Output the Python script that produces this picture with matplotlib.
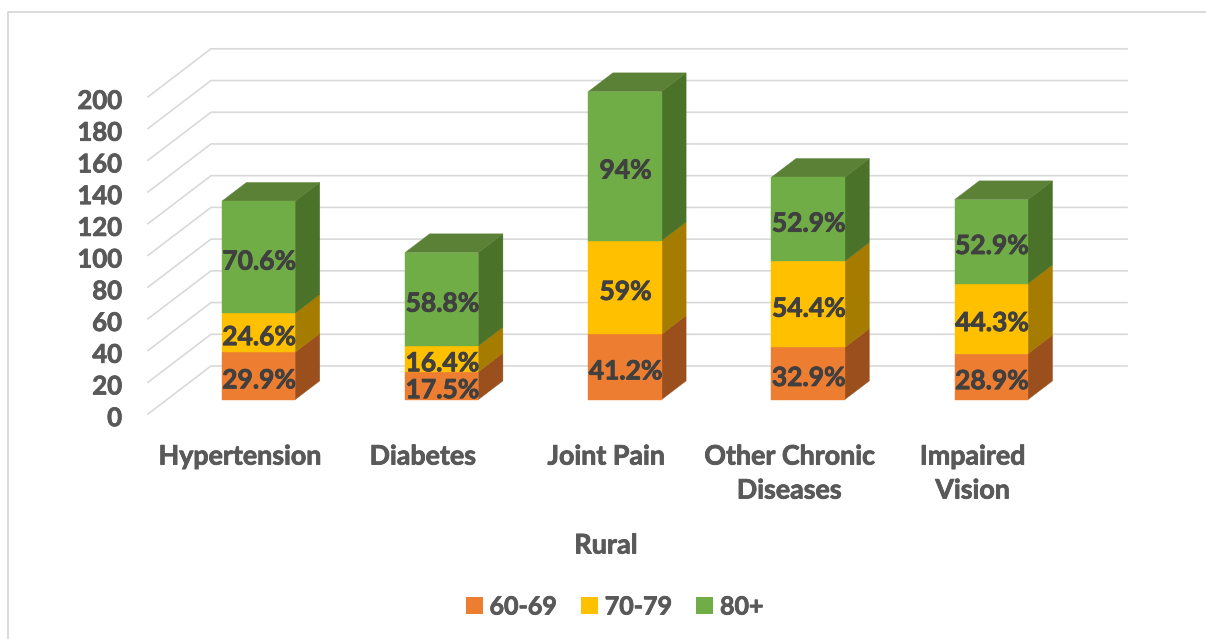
#!/usr/bin/env python3
"""Stacked 3D-style column chart of chronic conditions by age group (rural)."""
import matplotlib
matplotlib.use('Agg')
import matplotlib.pyplot as plt
import matplotlib.patheffects as pe
from matplotlib.patches import Patch, Polygon

categories = ['Hypertension', 'Diabetes', 'Joint Pain', 'Other Chronic\nDiseases', 'Impaired\nVision']
age_groups = ['60-69', '70-79', '80+']
age_60_69 = [29.9, 17.5, 41.2, 32.9, 28.9]
age_70_79 = [24.6, 16.4, 59, 54.4, 44.3]
age_80_up = [70.6, 58.8, 94, 52.9, 52.9]
value_labels = [
    ['29.9%', '17.5%', '41.2%', '32.9%', '28.9%'],
    ['24.6%', '16.4%', '59%', '54.4%', '44.3%'],
    ['70.6%', '58.8%', '94%', '52.9%', '52.9%'],
]
y_ticks = [0, 20, 40, 60, 80, 100, 120, 140, 160, 180, 200]
x_label = 'Rural'

FRONT = ['#ED7D31', '#FFC000', '#70AD47']
SIDE = ['#9A4F1D', '#A67C00', '#4A7229']
TOP = ['#BE6427', '#CC9A00', '#5A8136']
GRID = '#D9D9D9'
AXIS_TEXT = '#595959'
LABEL_TEXT = '#404040'

W, H = 1206, 639
PX_PER_CAT = 183.2
PX_PER_VAL = 1.586
ORIGIN_X, ORIGIN_Y = 148, 414      # front-left corner of the floor
DEPTH_X, DEPTH_Y = 63, 48          # floor depth on screen
BAR_D0, BAR_D1 = 0.30, 0.69        # where the columns sit in the depth
BAR_W = 0.40

plt.rcParams['font.family'] = ['Lato', 'DejaVu Sans']
plt.rcParams['font.weight'] = 'bold'

def proj(x, v, d=0.0):
    """category/value/depth to data coords of the flat axes"""
    return x + d * DEPTH_X / PX_PER_CAT, v + d * DEPTH_Y / PX_PER_VAL

def face(pts, color, z):
    ax.add_patch(Polygon(pts, closed=True, facecolor=color, edgecolor=color, linewidth=0.3, zorder=z))

def heavier(txt, color):
    # Lato bold runs a bit light at this size, thicken with a hairline stroke
    txt.set_path_effects([pe.withStroke(linewidth=0.6, foreground=color)])

fig = plt.figure(figsize=(W / 100, H / 100), dpi=100)
ax = fig.add_axes([0, 0, 1, 1])
ax.set_xlim(-ORIGIN_X / PX_PER_CAT, (W - ORIGIN_X) / PX_PER_CAT)
ax.set_ylim(-(H - ORIGIN_Y) / PX_PER_VAL, ORIGIN_Y / PX_PER_VAL)
ax.axis('off')

# chart frame, only top and left show
fig.add_artist(plt.Line2D([1, 8 / W, 8 / W], [1 - 12 / H, 1 - 12 / H, 0], color=GRID, lw=1.4))

# walls
n = len(categories)
for v in y_ticks:
    pts = [proj(0, v, 0), proj(0, v, 1), proj(n, v, 1)]
    ax.plot([p[0] for p in pts], [p[1] for p in pts], color=GRID, lw=1.2, zorder=1)
    x, y = proj(0, v, 0)
    t = ax.annotate(str(v), (x, y), xytext=(-18.7, -3), textcoords='offset points', ha='right', va='center',
                    fontsize=18.5, color=AXIS_TEXT)
    heavier(t, AXIS_TEXT)

# columns
series = [age_60_69, age_70_79, age_80_up]
bottoms = [0.0] * n
for s, vals in enumerate(series):
    for i, val in enumerate(vals):
        x0 = i + 0.5 - BAR_W / 2
        x1 = i + 0.5 + BAR_W / 2
        b, t = bottoms[i], bottoms[i] + val
        face([proj(x1, b, BAR_D0), proj(x1, b, BAR_D1), proj(x1, t, BAR_D1), proj(x1, t, BAR_D0)], SIDE[s], 3)
        if s == len(series) - 1:
            face([proj(x0, t, BAR_D0), proj(x1, t, BAR_D0), proj(x1, t, BAR_D1), proj(x0, t, BAR_D1)], TOP[s], 3)
        face([proj(x0, b, BAR_D0), proj(x1, b, BAR_D0), proj(x1, t, BAR_D0), proj(x0, t, BAR_D0)], FRONT[s], 4)
        cx, cy = proj(i + 0.5, (b + t) / 2, BAR_D0)
        lab = ax.annotate(value_labels[s][i], (cx, cy), xytext=(0.5, -3.2), textcoords='offset points',
                          ha='center', va='center', fontsize=19, color=LABEL_TEXT, zorder=5)
        heavier(lab, LABEL_TEXT)
        bottoms[i] = t

# category labels sit under the front edge of the floor
for i, name in enumerate(categories):
    x, y = proj(i + 0.5, 0, 0)
    t = ax.annotate(name, (x, y), xytext=(0, -22), textcoords='offset points', ha='center', va='top',
                    fontsize=19.3, color=AXIS_TEXT, linespacing=1.5)
    heavier(t, AXIS_TEXT)

t = fig.text(606 / W, 1 - 545.5 / H, x_label, ha='center', va='center', fontsize=19.5, color=AXIS_TEXT)
heavier(t, AXIS_TEXT)

handles = [Patch(facecolor=c, edgecolor='none', label=g) for c, g in zip(FRONT, age_groups)]
leg = fig.legend(handles=handles, loc='center', bbox_to_anchor=(614.5 / W, 1 - 607 / H), ncol=3, frameon=False,
                 fontsize=18, labelcolor=AXIS_TEXT, handlelength=0.68, handleheight=0.68,
                 handletextpad=0.28, columnspacing=0.96)
for t in leg.get_texts():
    heavier(t, AXIS_TEXT)

plt.savefig('out.png', dpi=100)
plt.close()
